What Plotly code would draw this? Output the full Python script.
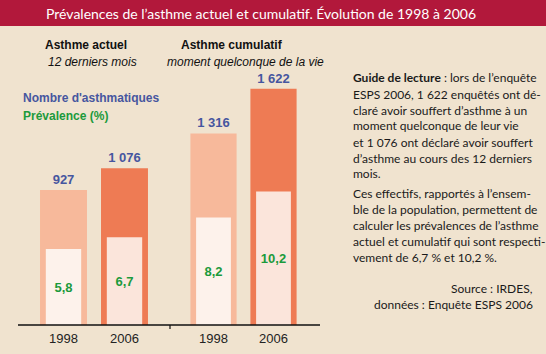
import plotly.graph_objects as go

# ---- data ----
years = ["1998", "2006"]
actuel_nombre = [927, 1076]
actuel_prev = [5.8, 6.7]
cumul_nombre = [1316, 1622]
cumul_prev = [8.2, 10.2]

W, H = 546, 354
def px(x): return x / W
def py(y): return 1 - y / H

BG = "#F0E3CF"
OUTER = ["#F7B99B", "#EE7B54"]
INNER = ["#FDF2EB", "#FBE5DB"]
BLUE = "#46569F"
GREEN = "#1C9A3C"
FONT = "Liberation Sans"

def fmt_n(v):
    return f"{v:,}".replace(",", " ")
def fmt_p(v):
    return f"{v:.1f}".replace(".", ",")

fig = go.Figure()

def add_group(xa, ya_n, ya_p, nombres, prevs):
    fig.add_trace(go.Bar(
        x=years, y=nombres, xaxis=xa, yaxis=ya_n, width=0.77,
        marker=dict(color=OUTER, line=dict(width=0)),
        text=[fmt_n(v) for v in nombres], textposition="outside",
        textfont=dict(family=FONT, size=13, color=BLUE, weight="bold"),
        cliponaxis=False, hoverinfo="skip", showlegend=False))
    fig.add_trace(go.Bar(
        x=years, y=prevs, xaxis=xa, yaxis=ya_p, width=0.58,
        marker=dict(color=INNER, line=dict(width=0)),
        text=[fmt_p(v) for v in prevs], textposition="inside",
        insidetextanchor="middle", textangle=0, constraintext="none",
        textfont=dict(family=FONT, size=13, color=GREEN, weight="bold"),
        cliponaxis=False, hoverinfo="skip", showlegend=False))

add_group("x", "y", "y2", actuel_nombre, actuel_prev)
add_group("x2", "y3", "y4", cumul_nombre, cumul_prev)

ydom = [py(325), py(60)]
NMAX = 265 / 0.1456
PMAX = 265 / 13.1
tickfont = dict(family=FONT, size=13, color="#222222")

fig.update_layout(
    width=W, height=H, margin=dict(l=0, r=0, t=0, b=0),
    paper_bgcolor=BG, plot_bgcolor="rgba(0,0,0,0)",
    barmode="overlay", showlegend=False,
    xaxis=dict(domain=[px(18), px(170)], range=[-0.746, 1.746], type="category",
               categoryarray=years, showline=False, showgrid=False, zeroline=False,
               ticks="", tickfont=tickfont, ticklabelstandoff=4, anchor="y"),
    yaxis=dict(domain=ydom, range=[0, NMAX], visible=False, anchor="x"),
    yaxis2=dict(range=[0, PMAX], visible=False, overlaying="y", anchor="x"),
    xaxis2=dict(domain=[px(170), px(320)], range=[-0.725, 1.775], type="category",
                categoryarray=years, showline=False, showgrid=False, zeroline=False,
                ticks="", tickfont=tickfont, ticklabelstandoff=4, anchor="y3"),
    yaxis3=dict(domain=ydom, range=[0, NMAX], visible=False, anchor="x2"),
    yaxis4=dict(range=[0, PMAX], visible=False, overlaying="y3", anchor="x2"),
)

shapes = [
    dict(type="rect", xref="paper", yref="paper", x0=0, x1=1, y0=py(26), y1=1,
         fillcolor="#B2183B", line=dict(width=0), layer="below"),
    dict(type="line", xref="paper", yref="paper", x0=px(18), x1=px(320),
         y0=py(325), y1=py(325), line=dict(color="#111111", width=1.5)),
    dict(type="line", xref="paper", yref="paper", x0=px(170), x1=px(170),
         y0=py(325), y1=py(329), line=dict(color="#111111", width=1.2)),
]
fig.update_layout(shapes=shapes)

ann = []
def add_text(x, y, text, size=12, color="#111111", family=FONT, xanchor="left", bold=False, italic=False):
    f = dict(family=family, size=size, color=color)
    if bold:
        f["weight"] = "bold"
    if italic:
        f["style"] = "italic"
    ann.append(dict(xref="paper", yref="paper", x=px(x), y=py(y), text=text,
                    showarrow=False, xanchor=xanchor, yanchor="middle", font=f))

# title
add_text(261, 13, "Prévalences de l’asthme actuel et cumulatif. Évolution de 1998 à 2006",
         size=14, color="white", family="Lato", xanchor="center")
# headers
add_text(86, 45, "Asthme actuel", size=12, bold=True, xanchor="center")
add_text(92, 62, "12 derniers mois", size=12, italic=True, xanchor="center")
add_text(232, 45, "Asthme cumulatif", size=12, bold=True, xanchor="center")
add_text(245, 62, "moment quelconque de la vie", size=12, italic=True, xanchor="center")
# legend
add_text(21, 98, "Nombre d'asthmatiques", size=12, color=BLUE, bold=True)
add_text(21, 116, "Prévalence (%)", size=12, color=GREEN, bold=True)

# side text
RF = "Lato"
RS = 12
lines = [
    (78, "<b>Guide de lecture</b> : lors de l’enquête"),
    (94, "ESPS 2006, 1 622 enquêtés ont dé-"),
    (110, "claré avoir souffert d’asthme à un"),
    (126, "moment quelconque de leur vie"),
    (142, "et 1 076 ont déclaré avoir souffert"),
    (158, "d’asthme au cours des 12 derniers"),
    (173, "mois."),
    (193, "Ces effectifs, rapportés à l’ensem-"),
    (209, "ble de la population, permettent de"),
    (225, "calculer les prévalences de l’asthme"),
    (241, "actuel et cumulatif qui sont respecti-"),
    (257, "vement de 6,7 % et 10,2 %."),
]
for y, t in lines:
    add_text(351, y, t, size=RS, family=RF, color="#1A1A1A")
add_text(535, 288, "Source : IRDES,", size=RS, family=RF, color="#1A1A1A", xanchor="right")
add_text(535, 304, "données : Enquête ESPS 2006", size=RS, family=RF, color="#1A1A1A", xanchor="right")

fig.update_layout(annotations=ann)
fig.write_html("out.html")
